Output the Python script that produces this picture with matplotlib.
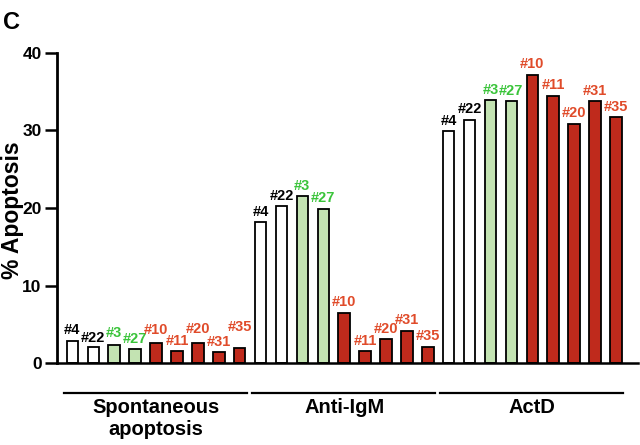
import numpy as np
import matplotlib
matplotlib.use("Agg")
import matplotlib.pyplot as plt
import matplotlib.transforms as mtransforms

plt.rcParams['font.family'] = ['Liberation Sans', 'DejaVu Sans']

# Data (% apoptosis per clone)
clones = ['#4', '#22', '#3', '#27', '#10', '#11', '#20', '#31', '#35']
clone_kind = ['white', 'white', 'green', 'green', 'red', 'red', 'red', 'red', 'red']
conditions = ['Spontaneous\napoptosis', 'Anti-IgM', 'ActD']
spontaneous = [2.8, 2.1, 2.4, 1.8, 2.6, 1.6, 2.6, 1.4, 1.9]
anti_igm = [18.2, 20.2, 21.5, 19.9, 6.5, 1.5, 3.1, 4.2, 2.1]
actd = [29.9, 31.4, 33.9, 33.8, 37.2, 34.5, 30.9, 33.8, 31.7]
yticks = [0, 10, 20, 30, 40]

fill = {'white': 'white', 'green': '#c3e3b2', 'red': '#bf2a1c'}
text_col = {'white': 'black', 'green': '#3ac43a', 'red': '#e04b2a'}
# the small spontaneous bars have staggered labels (extra lift, in points)
spont_lift = [2, 0, 2, 1.5, 3.5, 1, 4, 1.5, 9]

fig = plt.figure(figsize=(6.4, 4.45), dpi=100)
ax = fig.add_axes([0.089, 0.184, 0.908, 0.697])

n = len(clones)
trans = mtransforms.blended_transform_factory(ax.transData, ax.transAxes)
for g, vals in enumerate([spontaneous, anti_igm, actd]):
    x = np.arange(n) + g * n
    ax.bar(x, vals, width=0.55, color=[fill[k] for k in clone_kind],
           edgecolor='black', linewidth=1.3, zorder=2)
    lifts = spont_lift if g == 0 else [1.5] * n
    for xi, v, lab, k, dy in zip(x, vals, clones, clone_kind, lifts):
        ax.annotate(lab, (xi, v), xytext=(0, 1 + dy), textcoords='offset points',
                    ha='center', va='bottom', fontsize=10.5, fontweight='bold',
                    color=text_col[k])

    # group underline + label
    ax.plot([x[0] - 0.4, x[-1] + 0.35], [-0.097, -0.097], transform=trans,
            color='black', lw=1.6, clip_on=False)
    ax.text(x.mean(), -0.113, conditions[g], transform=trans, ha='center',
            va='top', fontsize=14.5, fontweight='bold', linespacing=1.2)

ax.set_xlim(-0.74, 27.06)
ax.set_ylim(0, 40)
ax.set_yticks(yticks)
ax.set_yticklabels([str(t) for t in yticks], fontsize=12.5, fontweight='bold')
ax.tick_params(axis='y', length=9, width=1.8, pad=2, direction='out')
ax.set_xticks([])
ax.spines['top'].set_visible(False)
ax.spines['right'].set_visible(False)
ax.spines['left'].set_linewidth(2)
ax.spines['bottom'].set_linewidth(1.8)
ax.set_ylabel('% Apoptosis', fontsize=16.5, fontweight='bold')
ax.yaxis.set_label_coords(-0.057, 0.494)

fig.text(0.005, 0.975, 'C', fontsize=17, fontweight='bold', ha='left', va='top')

fig.savefig('out.png', dpi=100)
